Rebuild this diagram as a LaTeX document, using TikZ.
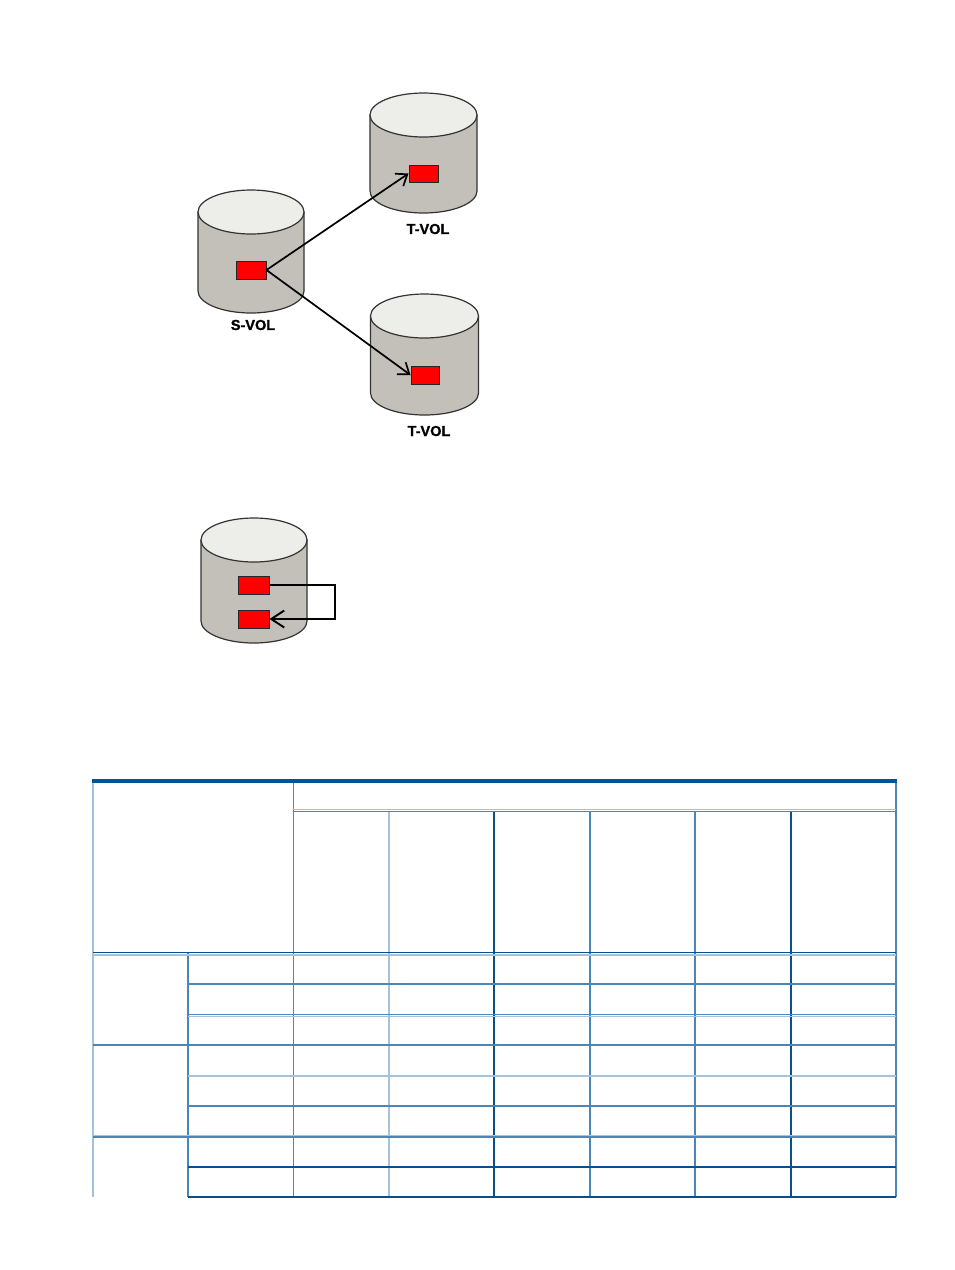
\documentclass[tikz,border=0pt]{standalone}
\usepackage{fontspec}
\setsansfont{Liberation Sans}
\newfontfamily\lblfont[FakeBold=1.2]{Liberation Sans Bold}
\usetikzlibrary{arrows.meta}
\definecolor{cylbody}{HTML}{C2C0B9}
\definecolor{cyltop}{HTML}{EDEDE9}
\definecolor{cylline}{HTML}{333333}
\definecolor{boxred}{HTML}{FF0000}
\definecolor{tdark}{HTML}{0A4F8A}
\definecolor{tmed}{HTML}{4C86B8}
\definecolor{tlight}{HTML}{A6C3DC}
\definecolor{ttop}{HTML}{00548F}
\tikzset{
  cylbodystyle/.style={fill=cylbody,draw=cylline,line width=1.2pt},
  cyltopstyle/.style={fill=cyltop,draw=cylline,line width=1.2pt},
  redbox/.style={draw=black!85,fill=boxred,line width=1pt,minimum width=30pt,minimum height=18pt,inner sep=0pt},
  vollabel/.style={font=\lblfont\fontsize{14.5}{15}\selectfont,inner sep=0pt},
  arr/.style={line width=1.7pt,-{Straight Barb[length=10pt,width=15pt,line width=1.7pt]}},
  loopline/.style={line width=1.9pt,-{Straight Barb[length=13pt,width=17pt,line width=1.9pt]}},
  lmed/.style={draw=tmed,line width=1.4pt},
  llight/.style={draw=tlight,line width=2pt},
  ldark/.style={draw=tdark,line width=1.3pt},
}
% cylinder: cx, rx, top-center y (px), bottom-center y (px), ry
\newcommand\mycyl[5]{%
  \path[cylbodystyle] (#1-#2,-#3) -- (#1-#2,-#4)
     arc[start angle=180,end angle=360,x radius=#2,y radius=#5]
     -- (#1+#2,-#3) -- cycle;
  \path[cyltopstyle] (#1,-#3) ellipse[x radius=#2,y radius=#5];
}
\begin{document}
\begin{tikzpicture}[x=1pt,y=1pt]
\useasboundingbox (0,0) rectangle (954,-1270);
\fill[white] (0,0) rectangle (954,-1270);

% cylinders
\mycyl{251}{53}{212}{291}{22}
\mycyl{423.5}{53.5}{115}{191}{22}
\mycyl{424.5}{54}{316}{393}{22}
\mycyl{254}{53}{540}{621}{22}

% red boxes
\node[redbox] (s) at (251,-270) {};
\node[redbox,minimum width=29pt,minimum height=17pt] (t1) at (423.5,-173.5) {};
\node[redbox,minimum width=28pt] (t2) at (425,-375) {};
\node[redbox,minimum width=31pt] (sa) at (253.5,-585) {};
\node[redbox,minimum width=31pt] (sb) at (253.5,-619) {};

% labels
\node[vollabel] (ls) at (253,-325) {S-VOL};
\node[vollabel] (lt1) at (428,-229) {T-VOL};
\node[vollabel] (lt2) at (429,-431) {T-VOL};

% connectors
\draw[arr] (s.east) -- (t1.west);
\draw[arr] (s.east) -- (t2.west);
\coordinate (loopc) at (335,-585);
\draw[loopline] (sa.east) -- (loopc) |- (sb.east);

% table: vertical lines
\draw[llight] (92.5,-781) -- (92.5,-1197);
\draw[lmed] (188,-953) -- (188,-1197);
\draw[lmed] (293.3,-781) -- (293.3,-1197);
\draw[llight] (389,-811) -- (389,-1197);
\draw[ldark] (494,-811) -- (494,-1197);
\draw[lmed] (590,-811) -- (590,-1197);
\draw[lmed] (695,-811) -- (695,-1197);
\draw[ldark] (791,-811) -- (791,-1197);
\draw[lmed] (896,-781) -- (896,-1197);

% table: horizontal lines
\draw[llight,line width=1.2pt] (293.3,-809.5) -- (896,-809.5);
\draw[lmed,line width=1.2pt] (293.3,-811.3) -- (896,-811.3);
\draw[llight,line width=1.5pt] (92.5,-955) -- (896,-955);
\draw[tdark,line width=1.6pt] (92.5,-952.5) -- (896,-952.5);
\draw[lmed] (188,-984) -- (896,-984);
\draw[llight,line width=1pt] (188,-1016) -- (896,-1016);
\draw[lmed] (188,-1014.5) -- (896,-1014.5);
\draw[lmed] (92.5,-1045) -- (896,-1045);
\draw[llight,line width=2.4pt] (188,-1076) -- (896,-1076);
\draw[lmed] (188,-1106) -- (896,-1106);
\draw[llight,line width=1pt] (92.5,-1135.5) -- (896,-1135.5);
\draw[lmed] (92.5,-1137) -- (896,-1137);
\draw[ldark] (188,-1167) -- (896,-1167);
\draw[ldark] (188,-1197) -- (896,-1197);
\draw[ttop,line width=3.5pt] (92,-781) -- (896.7,-781);
\end{tikzpicture}
\end{document}
